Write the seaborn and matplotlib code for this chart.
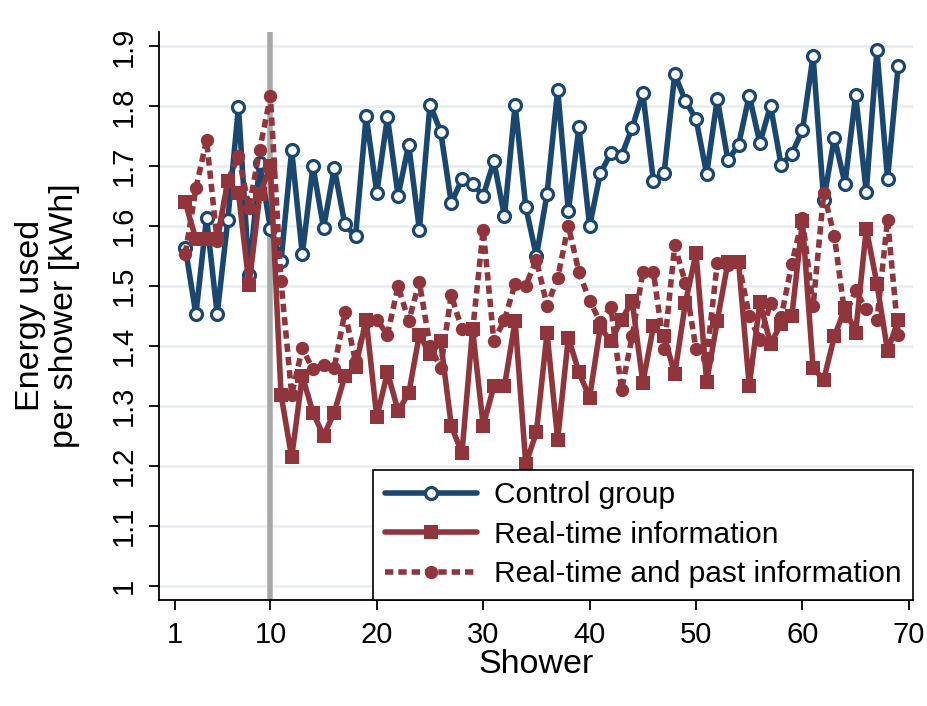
import matplotlib
matplotlib.use("Agg")
import matplotlib.pyplot as plt
import seaborn as sns
import pandas as pd

# Shower index of each observation
showers = list(range(2, 70))

control = [1.564, 1.453, 1.614, 1.453, 1.611, 1.799, 1.519, 1.706, 1.596,
           1.542, 1.727, 1.553, 1.700, 1.597, 1.697, 1.603, 1.583, 1.784,
           1.656, 1.782, 1.651, 1.736, 1.594, 1.803, 1.758, 1.639, 1.678,
           1.671, 1.651, 1.708, 1.617, 1.803, 1.632, 1.550, 1.654, 1.828,
           1.625, 1.765, 1.600, 1.688, 1.722, 1.718, 1.764, 1.822, 1.675,
           1.688, 1.854, 1.809, 1.779, 1.687, 1.813, 1.710, 1.736, 1.818,
           1.739, 1.801, 1.702, 1.721, 1.760, 1.884, 1.643, 1.748, 1.671,
           1.819, 1.657, 1.894, 1.679, 1.868]

realtime = [1.640, 1.578, 1.578, 1.578, 1.675, 1.655, 1.502, 1.653, 1.700,
            1.319, 1.214, 1.350, 1.289, 1.250, 1.289, 1.350, 1.365, 1.444,
            1.281, 1.356, 1.292, 1.321, 1.419, 1.386, 1.408, 1.267, 1.221,
            1.428, 1.267, 1.333, 1.333, 1.442, 1.203, 1.256, 1.422, 1.244,
            1.414, 1.356, 1.314, 1.431, 1.408, 1.444, 1.475, 1.339, 1.433,
            1.417, 1.353, 1.472, 1.555, 1.340, 1.442, 1.540, 1.540, 1.333,
            1.473, 1.404, 1.437, 1.450, 1.608, 1.363, 1.344, 1.416, 1.463,
            1.422, 1.596, 1.504, 1.392, 1.443]

realtime_past = [1.554, 1.663, 1.744, 1.575, 1.676, 1.717, 1.631, 1.728, 1.817,
                 1.508, 1.319, 1.396, 1.361, 1.369, 1.364, 1.456, 1.375, 1.440,
                 1.444, 1.419, 1.500, 1.442, 1.507, 1.400, 1.364, 1.485, 1.428,
                 1.425, 1.594, 1.408, 1.444, 1.504, 1.501, 1.544, 1.467, 1.514,
                 1.601, 1.523, 1.476, 1.440, 1.465, 1.327, 1.416, 1.523, 1.523,
                 1.395, 1.568, 1.505, 1.395, 1.380, 1.539, 1.535, 1.540, 1.450,
                 1.410, 1.472, 1.448, 1.537, 1.613, 1.466, 1.655, 1.584, 1.450,
                 1.493, 1.461, 1.443, 1.611, 1.419]

series_names = ["Control group", "Real-time information",
                "Real-time and past information"]
x_ticks = [1, 10, 20, 30, 40, 50, 60, 70]
y_ticks = [1.0, 1.1, 1.2, 1.3, 1.4, 1.5, 1.6, 1.7, 1.8, 1.9]
y_tick_labels = ["1", "1.1", "1.2", "1.3", "1.4", "1.5", "1.6", "1.7", "1.8", "1.9"]
treatment_start = 10

NAVY = "#1a476f"
MAROON = "#90353b"

sns.set_theme(style="white")
plt.rcParams["font.family"] = ["Liberation Sans", "DejaVu Sans"]
plt.rcParams["text.color"] = "black"

df = pd.DataFrame({
    "Shower": showers * 3,
    "Energy": control + realtime + realtime_past,
    "Group": sum([[n] * len(showers) for n in series_names], []),
})

fig = plt.figure(figsize=(9.27, 7.06), dpi=100)
ax = fig.add_axes([0.1715, 0.150, 0.8135, 0.805])

# horizontal grid
for yv in y_ticks:
    ax.axhline(yv, color="#e6eef1", lw=1.8, zorder=0)

ax.axvline(treatment_start, color="#a8a8a8", lw=4.0, zorder=1)

lw = 4.0
sub = df[df.Group == series_names[0]]
sns.lineplot(data=sub, x="Shower", y="Energy", ax=ax, color=NAVY, linewidth=lw,
             marker="o", markersize=8.6, markerfacecolor="white",
             markeredgecolor=NAVY, markeredgewidth=2.3,
             label=series_names[0], zorder=3)
sub = df[df.Group == series_names[1]]
sns.lineplot(data=sub, x="Shower", y="Energy", ax=ax, color=MAROON, linewidth=lw,
             marker="s", markersize=9.8, markerfacecolor=MAROON,
             markeredgecolor=MAROON, markeredgewidth=0,
             label=series_names[1], zorder=4)
sub = df[df.Group == series_names[2]]
sns.lineplot(data=sub, x="Shower", y="Energy", ax=ax, color=MAROON, linewidth=lw,
             marker="o", markersize=9.6, markerfacecolor=MAROON,
             markeredgecolor=MAROON, markeredgewidth=0,
             label=series_names[2], zorder=4)
ax.lines[-1].set_linestyle((0, (1.5, 0.9)))
ax.lines[-1].set_dash_capstyle("butt")

ax.set_xlim(-0.47, 70.4)
ax.set_ylim(0.976, 1.9245)
ax.set_xticks(x_ticks)
ax.set_xticklabels([str(t) for t in x_ticks])
ax.set_yticks(y_ticks)
ax.set_yticklabels(y_tick_labels, rotation=90, va="center")

for side in ["top", "right"]:
    ax.spines[side].set_visible(False)
for side in ["left", "bottom"]:
    ax.spines[side].set_color("black")
    ax.spines[side].set_linewidth(1.3)

ax.tick_params(axis="both", which="major", direction="out", length=7,
               width=1.3, color="black", labelsize=21, labelcolor="black",
               bottom=True, left=True)
ax.tick_params(axis="y", pad=8)
ax.tick_params(axis="x", pad=8)

ax.set_xlabel("Shower", fontsize=24.5, color="black", labelpad=0)
ax.set_ylabel("Energy used\nper shower [kWh]", fontsize=24.5, color="black",
              labelpad=22, linespacing=1.1)

leg = ax.legend(loc="lower right", bbox_to_anchor=(1.0, 0.0), fontsize=21.5,
                frameon=True, fancybox=False, edgecolor="black",
                framealpha=1, handlelength=3.1, handletextpad=0.55,
                borderpad=0.4, labelspacing=0.38, borderaxespad=0)
leg.get_frame().set_linewidth(1.2)
leg.set_zorder(10)
for t in leg.get_texts():
    t.set_color("black")

fig.savefig("out.png", dpi=100, facecolor="white")
